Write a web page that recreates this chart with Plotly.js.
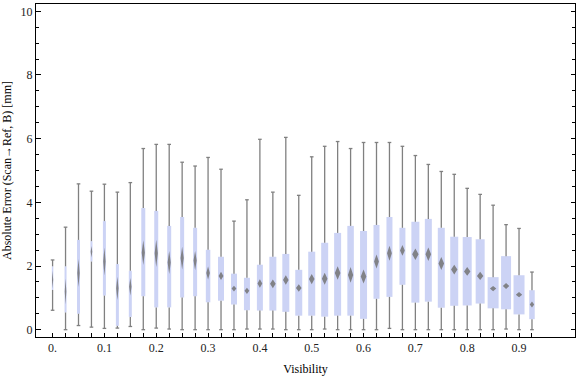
<!DOCTYPE html>
<html>
<head>
<meta charset="utf-8">
<script src="https://cdn.plot.ly/plotly-3.0.1.min.js"></script>
<style>html,body{margin:0;padding:0;background:#fff;}#chart{width:576px;height:377px;}</style>
</head>
<body>
<div id="chart"></div>
<script>
// ---- data ----
const visibility = [0, 0.025, 0.05, 0.075, 0.1, 0.125, 0.15, 0.175, 0.2, 0.225,
  0.25, 0.275, 0.3, 0.325, 0.35, 0.375, 0.4, 0.425, 0.45, 0.475,
  0.5, 0.525, 0.55, 0.575, 0.6, 0.625, 0.65, 0.675, 0.7, 0.725,
  0.75, 0.775, 0.8, 0.825, 0.85, 0.875, 0.9, 0.925];
const minVals = [0.61, 0.00, 0.13, 0.08, 0.04, 0.05, 0.10, 0.00, 0.05, 0.02,
  0.00, 0.00, 0.00, 0.00, 0.00, 0.02, 0.02, 0.02, 0.00, 0.00,
  0.00, 0.02, 0.00, 0.00, 0.00, 0.00, 0.04, 0.00, 0.00, 0.00,
  0.00, 0.00, 0.00, 0.00, 0.00, 0.02, 0.00, 0.00];
const q1Vals = [1.25, 0.54, 0.50, 2.14, 1.07, 0.12, 0.40, 1.05, 0.70, 0.70,
  1.01, 1.05, 0.86, 0.91, 0.79, 0.61, 0.60, 0.60, 0.56, 0.44,
  0.44, 0.41, 0.44, 0.44, 0.34, 0.97, 1.03, 1.41, 0.85, 0.88,
  0.69, 0.75, 0.76, 0.82, 0.67, 0.64, 0.48, 0.33];
const medianVals = [1.57, 1.20, 1.78, 2.45, 2.14, 1.30, 1.35, 2.42, 2.40, 2.11,
  2.25, 2.17, 1.78, 1.69, 1.29, 1.22, 1.45, 1.44, 1.56, 1.31,
  1.59, 1.60, 1.78, 1.72, 1.67, 2.14, 2.40, 2.49, 2.37, 2.37,
  2.08, 1.89, 1.83, 1.69, 1.29, 1.37, 1.10, 0.79];
const q3Vals = [1.99, 1.99, 2.82, 2.78, 3.41, 2.06, 1.85, 3.82, 3.73, 3.26,
  3.54, 3.20, 2.51, 2.29, 1.76, 1.63, 2.04, 2.29, 2.38, 1.88,
  2.45, 2.73, 3.04, 3.26, 3.10, 3.29, 3.54, 3.20, 3.39, 3.48,
  3.20, 2.92, 2.91, 2.84, 1.65, 2.31, 1.71, 1.24];
const maxVals = [2.19, 3.22, 4.58, 4.35, 4.57, 4.32, 4.62, 5.69, 5.82, 5.82,
  5.26, 5.14, 5.41, 5.04, 3.41, 4.08, 5.98, 4.32, 6.04, 4.22,
  5.43, 5.76, 5.91, 5.69, 5.88, 5.88, 5.88, 5.76, 5.47, 5.19,
  4.97, 4.88, 4.44, 4.25, 3.91, 3.30, 3.18, 1.81];
const xTickVals = [0, 0.1, 0.2, 0.3, 0.4, 0.5, 0.6, 0.7, 0.8, 0.9];
const xTickText = ["0.", "0.1", "0.2", "0.3", "0.4", "0.5", "0.6", "0.7", "0.8", "0.9"];

// ---- styling ----
const boxPx = [1.5, 2, 3, 2, 3, 3, 3, 4, 4, 4,
  4, 4, 4.5, 6, 6, 6, 6, 7, 7, 7,
  7, 7, 7, 6.5, 7, 6, 6, 6, 8, 7,
  7, 8, 9, 9, 11, 10, 11, 5.5];
const XR = [-0.032, 1.008], YR = [-0.23, 10.23];
const M = {l: 36, r: 1, t: 4, b: 40};
const W = 576, H = 377;
const pxPerX = (W - M.l - M.r) / (XR[1] - XR[0]);
const pxPerY = (H - M.t - M.b) / (YR[1] - YR[0]);
const GRAY = 'rgb(128,128,128)';
const BOXCOL = 'rgb(204,211,245)';

// whisker segments (outside of the box)
const wx = [], wy = [];
visibility.forEach((c, i) => {
  wx.push(c, c, null, c, c, null);
  wy.push(minVals[i], q1Vals[i], null, q3Vals[i], maxVals[i], null);
});
// caps
const capX = visibility.concat(visibility);
const capY = minVals.concat(maxVals);
// median diamonds
const dx = [], dy = [];
visibility.forEach((c, i) => {
  const wpx = boxPx[i];
  const hwPx = Math.min(0.4 * wpx, 3.2);
  const hhPx = Math.max(18 * (q3Vals[i] - q1Vals[i]) / wpx, 2.6);
  const hw = hwPx / pxPerX, hh = hhPx / pxPerY, m = medianVals[i];
  dx.push(c, c + hw, c, c - hw, c, null);
  dy.push(m + hh, m, m - hh, m, m + hh, null);
});

const traces = [
  {type: 'bar', x: visibility, base: q1Vals,
   y: q3Vals.map((v, i) => v - q1Vals[i]),
   width: boxPx.map(p => p / pxPerX),
   marker: {color: BOXCOL, line: {width: 0}}, hoverinfo: 'skip', showlegend: false},
  {type: 'scatter', mode: 'lines', x: wx, y: wy, connectgaps: false,
   line: {color: GRAY, width: 1.3}, hoverinfo: 'skip', showlegend: false},
  {type: 'scatter', mode: 'markers', x: capX, y: capY,
   marker: {symbol: 'line-ew-open', size: 2.6, color: GRAY, line: {color: GRAY, width: 1.3}},
   hoverinfo: 'skip', showlegend: false},
  {type: 'scatter', mode: 'lines', x: dx, y: dy, fill: 'toself',
   fillcolor: 'rgba(115,115,115,0.85)', line: {width: 0, color: 'rgba(0,0,0,0)'},
   hoverinfo: 'skip', showlegend: false}
];

const font = {family: '"Liberation Serif", "Times New Roman", serif', size: 12, color: '#222'};
const layout = {
  width: W, height: H, margin: M,
  paper_bgcolor: '#fff', plot_bgcolor: '#fff',
  font: font, barmode: 'overlay', showlegend: false,
  xaxis: {range: XR, showgrid: false, zeroline: false,
    showline: true, linecolor: '#000', linewidth: 1, mirror: true,
    ticks: 'inside', ticklen: 4, tickwidth: 1, tickcolor: '#000',
    tickmode: 'array', tickvals: xTickVals, ticktext: xTickText,
    tickfont: font,
    minor: {tickmode: 'array', tickvals: visibility, ticks: 'inside', ticklen: 4, tickwidth: 1, tickcolor: '#000', showgrid: false},
    title: {text: 'Visibility', font: {family: font.family, size: 12, color: '#000'}, standoff: 10}},
  yaxis: {range: YR, showgrid: false, zeroline: false,
    showline: true, linecolor: '#000', linewidth: 1, mirror: 'ticks',
    ticks: 'inside', ticklen: 4.5, tickwidth: 1, tickcolor: '#000',
    tickmode: 'linear', tick0: 0, dtick: 2, tickfont: font,
    minor: {dtick: 0.5, tick0: 0, ticks: 'inside', ticklen: 3, tickwidth: 1, tickcolor: '#000', showgrid: false},
    title: {text: 'Absolute Error (Scan\u2192Ref, B) [mm]', font: {family: font.family, size: 12, color: '#000'}, standoff: 6}}
};

Plotly.newPlot('chart', traces, layout, {displayModeBar: false, staticPlot: true});
</script>
</body>
</html>
